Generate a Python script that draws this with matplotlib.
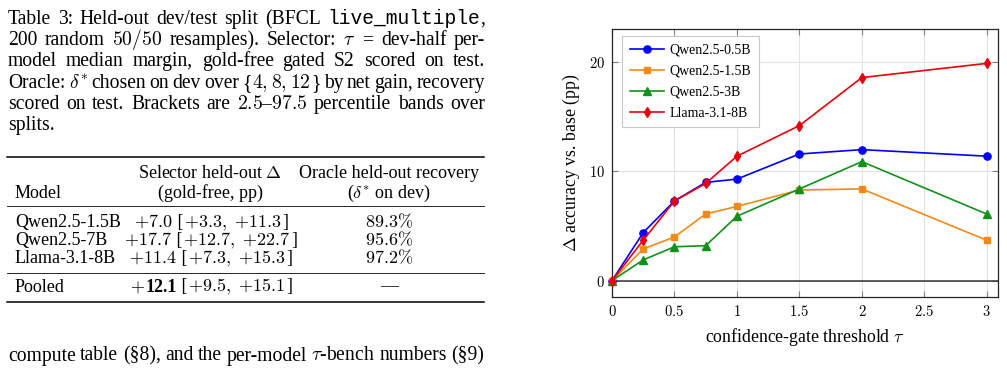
import matplotlib
matplotlib.use("Agg")
import matplotlib.pyplot as plt
from matplotlib.lines import Line2D

plt.rcParams['font.family'] = ['Liberation Serif', 'DejaVu Serif']
plt.rcParams['mathtext.fontset'] = 'cm'

# Données du graphique
tau = [0, 0.25, 0.5, 0.75, 1, 1.5, 2, 3]
qwen_05b = [0, 4.4, 7.3, 9.0, 9.3, 11.6, 12.0, 11.4]
qwen_15b = [0, 2.9, 4.0, 6.1, 6.8, 8.3, 8.4, 3.7]
qwen_3b = [0, 1.9, 3.1, 3.2, 5.9, 8.4, 10.9, 6.1]
llama_8b = [0, 3.7, 7.3, 8.9, 11.4, 14.2, 18.6, 19.9]
series_names = ["Qwen2.5-0.5B", "Qwen2.5-1.5B", "Qwen2.5-3B", "Llama-3.1-8B"]
x_ticks = [0, 0.5, 1, 1.5, 2, 2.5, 3]
x_ticklabels = ["0", "0.5", "1", "1.5", "2", "2.5", "3"]
y_ticks = [0, 10, 20]
y_ticklabels = ["0", "10", "20"]

# Données du tableau
table_models = ["Qwen2.5-1.5B", "Qwen2.5-7B", "Llama-3.1-8B"]
table_delta = ["+7.0", "+17.7", "+11.4"]
table_lo = ["+3.3", "+12.7", "+7.3"]
table_hi = ["+11.3", "+22.7", "+15.3"]
table_recovery = ["89.3", "95.6", "97.2"]
pooled_delta, pooled_lo, pooled_hi = "12.1", "+9.5", "+15.1"

caption_lines = [
    ["Table", "3:", "Held-out", "dev/test", "split", "(BFCL", [("live_multiple", "mono"), (",", "serif")]],
    ["200", "random", "$50/50$", "resamples).", "Selector:", "$\\tau$", "=", "dev-half", "per-"],
    ["model", "median", "margin,", "gold-free", "gated", "S2", "scored", "on", "test."],
    ["Oracle:", "$\\delta^{*}$", "chosen", "on", "dev", "over",
     [("{", "serif"), ("$4,$", "serif")], "$8,$", [("$12$", "serif"), ("}", "serif")],
     "by", "net", "gain,", "recovery"],
    ["scored", "on", "test.", "Brackets", "are", "$2.5$–$97.5$", "percentile", "bands", "over"],
    ["splits."],
]
body_line = ["compute", "table", "(§8),", "and", "the", "per-model", "$\\tau$-bench", "numbers", "(§9)"]

W, H = 1007, 371
fig = plt.figure(figsize=(W / 100, H / 100), dpi=100)
renderer = fig.canvas.get_renderer()
FS = 14.1
TFS = 13.0


def fx(x):
    return x / W


def fy(y):
    return 1 - y / H


def put(x, y, s, family='serif', **kw):
    if family == 'mono':
        fam = ['Liberation Mono']
    else:
        fam = ['Liberation Serif', 'DejaVu Serif']
    return fig.text(fx(x), fy(y), s, family=fam, fontsize=kw.pop('fontsize', FS), va='baseline', **kw)


def word_pieces(w):
    return [(w, 'serif')] if isinstance(w, str) else w


def measure(pieces, y, fs, weight='normal'):
    arts = []
    for p in pieces:
        s, fam = p[0], p[1]
        wt = p[2] if len(p) > 2 else weight
        t = put(0, y, s, fam, fontsize=fs, fontweight=wt)
        arts.append((t, t.get_window_extent(renderer).width))
    return arts


def justify(words, y, left, right, full=True):
    # mesurer chaque mot puis répartir les espaces
    placed = [measure(word_pieces(w), y, FS) for w in words]
    widths = [sum(pw for _, pw in arts) for arts in placed]
    if full and len(words) > 1:
        gap = (right - left - sum(widths)) / (len(words) - 1)
    else:
        gap = 4.5
    x = left
    for arts, wd in zip(placed, widths):
        xx = x
        for t, pw in arts:
            t.set_x(fx(xx))
            xx += pw
        x += wd + gap


def centered(pieces, y, xc, fs=TFS):
    arts = measure(pieces, y, fs)
    tot = sum(pw for _, pw in arts)
    xx = xc - tot / 2
    for t, pw in arts:
        t.set_x(fx(xx))
        xx += pw + 0.5


def signed(v):
    return f"{{{v[0]}}}{v[1:]}"


def cell(delta, lo, hi, bold=False):
    if bold:
        head = [("$+$", 'serif'), (delta, 'serif', 'bold')]
    else:
        head = [(f"${delta}$", 'serif')]
    return head + [(" [", 'serif'), (f"${signed(lo)},\\ {signed(hi)}$", 'serif'), ("]", 'serif')]


# Légende du tableau
for i, line in enumerate(caption_lines):
    justify(line, 24 + 21.2 * i, 8, 485, full=(i < len(caption_lines) - 1))

# Tableau
def rule(y, lw):
    fig.add_artist(Line2D([fx(7), fx(484)], [fy(y), fy(y)], color='black', lw=lw))

rule(156.5, 1.1)
rule(205.5, 0.6)
rule(272.5, 0.6)
rule(301.5, 1.1)

c2, c3 = 210, 389
put(c2, 178, "Selector held-out $\\Delta$", ha='center', fontsize=TFS)
put(c3, 178, "Oracle held-out recovery", ha='center', fontsize=TFS)
put(15, 198, "Model", fontsize=TFS)
put(c2, 198, "(gold-free, pp)", ha='center', fontsize=TFS)
put(c3, 198, "($\\delta^{*}$ on dev)", ha='center', fontsize=TFS)

for i, m in enumerate(table_models):
    yb = 227 + 18 * i
    put(15, yb, m, fontsize=TFS)
    centered(cell(table_delta[i], table_lo[i], table_hi[i]), yb, c2)
    put(c3, yb, f"${table_recovery[i]}\\%$", ha='center', fontsize=TFS)
put(15, 291.5, "Pooled", fontsize=TFS)
centered(cell(pooled_delta, pooled_lo, pooled_hi, bold=True), 291.5, c2)
put(c3, 291.5, "—", ha='center', fontsize=TFS)

# Texte sous le tableau
justify(body_line, 360.5, 8, 484)

# Graphique
ax = fig.add_axes([fx(612), fy(297), (998 - 612) / W, (297 - 29) / H])
colors = ['#0000ff', '#f28a1a', '#13901a', '#e8000b']
markers = ['o', 's', '^', 'd']
sizes = [5.2, 5.0, 5.2, 5.2]
for vals, name, c, m, ms in zip([qwen_05b, qwen_15b, qwen_3b, llama_8b], series_names, colors, markers, sizes):
    ax.plot(tau, vals, color=c, marker=m, markersize=ms, lw=1.2, label=name, clip_on=False, zorder=3)

ax.axhline(0, color='#333333', lw=1.1, zorder=2)
ax.set_xlim(0, 3.09)
ax.set_ylim(-1.5, 23.05)
ax.set_xticks(x_ticks)
ax.set_xticklabels([f"${s}$" for s in x_ticklabels])
ax.set_yticks(y_ticks)
ax.set_yticklabels([f"${s}$" for s in y_ticklabels])
ax.grid(True, color='#e3e3e3', lw=0.8, zorder=0)
ax.set_axisbelow(True)
ax.tick_params(direction='in', length=4, width=0.8, color='#7f7f7f', top=True, right=True,
               labelsize=10.5, pad=5)
for sp in ax.spines.values():
    sp.set_color('#262626')
    sp.set_linewidth(0.9)
ax.set_xlabel("confidence-gate threshold $\\tau$", fontsize=12.8, labelpad=5)
ax.set_ylabel("$\\Delta$ accuracy vs. base (pp)", fontsize=12.8, labelpad=5)

leg = ax.legend(loc='upper left', bbox_to_anchor=(0.026, 0.974), fontsize=10, frameon=True,
                fancybox=False, edgecolor='#c8c8c8', framealpha=1, handlelength=2.45,
                handletextpad=0.4, borderpad=0.55, labelspacing=0.58, borderaxespad=0)
leg.get_frame().set_linewidth(0.8)

fig.savefig("out.png", dpi=100)
